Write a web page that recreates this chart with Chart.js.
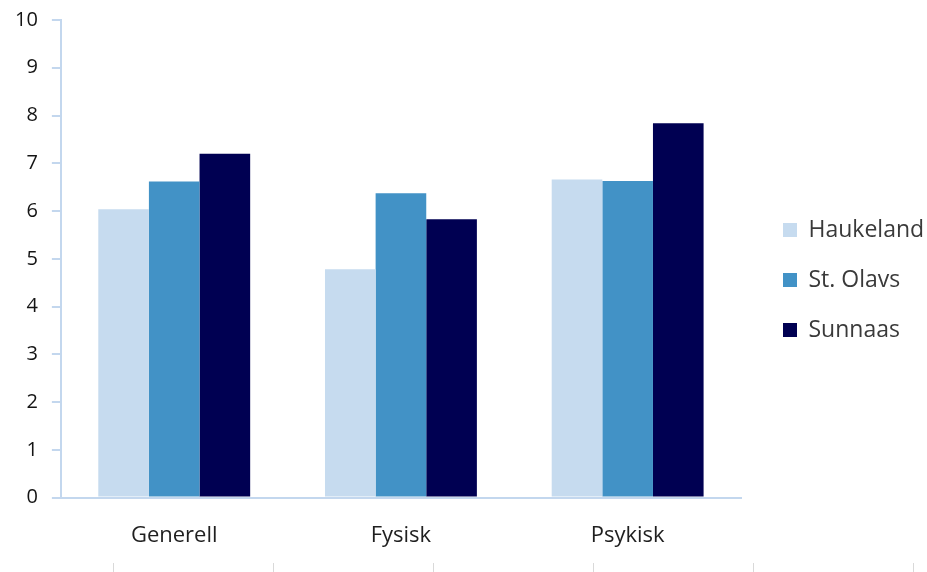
<!DOCTYPE html>
<html>
<head>
<meta charset="utf-8">
<script src="https://cdn.jsdelivr.net/npm/chart.js@4"></script>
<style>
  html, body { margin: 0; padding: 0; background: #fff; }
  #wrap { width: 927px; height: 572px; }
</style>
</head>
<body>
<div id="wrap"><canvas id="grafikk" width="927" height="572"></canvas></div>
<script>
// kategorier og verdier per sykehus
const kategorier = ['Generell', 'Fysisk', 'Psykisk'];
const haukeland = [6.04, 4.78, 6.66];
const stOlavs = [6.62, 6.37, 6.63];
const sunnaas = [7.20, 5.83, 7.84];
const yMin = 0, yMaks = 10, ySteg = 1;

const akseFarge = '#c3d7ee';
const font = 'Open Sans';

// legenden trenger litt luft mot plottet
const legendeLuft = {
  id: 'legendeLuft',
  afterInit(chart) {
    const lg = chart.legend;
    const fit = lg.fit;
    lg.fit = function () { fit.call(this); this.width = 186; };
    const draw = lg.draw;
    lg.draw = function () {
      const ctx = this.ctx;
      ctx.save();
      ctx.translate(15, -17);
      draw.call(this);
      ctx.restore();
    };
  }
};

// små streker nederst
const bunnStreker = {
  id: 'bunnStreker',
  afterDraw(chart) {
    const ctx = chart.ctx;
    ctx.save();
    ctx.strokeStyle = '#d9d9d9';
    ctx.lineWidth = 1;
    for (let x = 113.5; x < chart.width; x += 160) {
      ctx.beginPath();
      ctx.moveTo(x, 563);
      ctx.lineTo(x, 572);
      ctx.stroke();
    }
    ctx.restore();
  }
};

new Chart(document.getElementById('grafikk'), {
  type: 'bar',
  data: {
    labels: kategorier,
    datasets: [
      { label: 'Haukeland', data: haukeland, backgroundColor: '#c6dbef' },
      { label: 'St. Olavs', data: stOlavs, backgroundColor: '#4292c6' },
      { label: 'Sunnaas', data: sunnaas, backgroundColor: '#000052' }
    ]
  },
  options: {
    responsive: false,
    animation: false,
    layout: { padding: { left: 1, right: 0, top: 20, bottom: -2 } },
    datasets: { bar: { categoryPercentage: 0.67, barPercentage: 1 } },
    scales: {
      x: {
        grid: { display: false, drawTicks: false },
        border: { display: true, color: akseFarge, width: 2 },
        ticks: { color: '#1f1f1f', padding: 25, font: { family: font, size: 22 } }
      },
      y: {
        min: yMin,
        max: yMaks,
        ticks: { stepSize: ySteg, color: '#141414', padding: 14, font: { family: font, size: 20, lineHeight: 0.5 } },
        grid: { drawOnChartArea: false, color: akseFarge, tickLength: 9, lineWidth: 2 },
        border: { display: true, color: akseFarge, width: 2 }
      }
    },
    plugins: {
      legend: {
        position: 'right',
        labels: {
          boxWidth: 14,
          boxHeight: 14,
          padding: 27,
          color: '#3a3a3a',
          font: { family: font, size: 23 }
        }
      },
      tooltip: { enabled: false }
    }
  },
  plugins: [legendeLuft, bunnStreker]
});
</script>
</body>
</html>
